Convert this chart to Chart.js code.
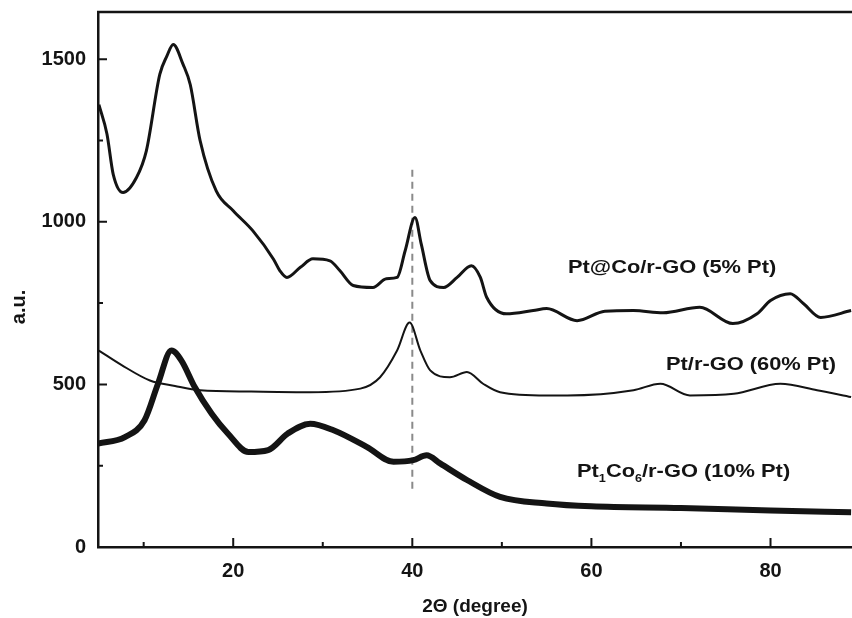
<!DOCTYPE html>
<html>
<head>
<meta charset="utf-8">
<script src="https://cdn.jsdelivr.net/npm/chart.js@4/dist/chart.umd.min.js"></script>
<style>
  html, body { margin: 0; padding: 0; background: #fff; overflow: hidden; }
  #wrap { width: 852px; height: 618px; }
</style>
</head>
<body>
<div id="wrap"><canvas id="xrd" width="852" height="618"></canvas></div>
<script>
// Datos (2θ en grados, intensidad en a.u.)
const ptCoX = [5.0, 5.9, 6.6, 7.7, 9.2, 10.3, 11.8, 12.6, 13.3, 14.4, 15.2, 16.3, 18.1, 20.0, 22.2, 24.5, 25.2, 26.0, 27.5, 28.9,
               30.8, 31.9, 33.4, 35.6, 37.1, 38.3, 39.2, 40.3, 41.0, 42.0, 43.5, 45.0, 46.6, 47.6, 48.3, 50.5, 53.5, 55.0, 58.4, 61.5,
               64.7, 68.0, 72.1, 75.8, 78.5, 80.0, 82.2, 83.7, 85.6, 89.0];
const ptCoY = [1360, 1270, 1146, 1090, 1136, 1218, 1453, 1510, 1545, 1484, 1422, 1250, 1095, 1034, 972, 885, 850, 829, 860, 886,
               880, 850, 804, 798, 825, 829, 911, 1013, 931, 819, 798, 829, 865, 829, 768, 717, 727, 733, 696, 725,
               727, 720, 737, 687, 717, 758, 779, 748, 706, 727];

const ptX = [5.0, 7.5, 10.7, 13.5, 16.3, 22.0, 28.6, 34.2, 36.4, 38.3, 39.7, 40.9, 42.0, 44.2, 46.1, 47.9, 49.8,
             55.0, 57.3, 64.7, 67.7, 71.0, 75.9, 81.1, 85.2, 89.0];
const ptY = [604, 560, 512, 495, 482, 478, 476, 487, 522, 604, 690, 604, 543, 522, 538, 502, 476,
             466, 466, 482, 502, 466, 471, 502, 482, 461];

const ptCo6X = [4.9, 7.9, 10.1, 11.6, 13.1, 14.2, 15.7, 17.6, 19.4, 21.7, 23.9, 26.1, 28.6, 31.2, 34.9, 37.9, 40.1,
                41.6, 43.1, 46.1, 49.8, 55.0, 60.0, 70.0, 80.0, 89.0];
const ptCo6Y = [318, 338, 390, 502, 604, 574, 492, 410, 349, 292, 298, 349, 379, 359, 308, 262, 267,
                282, 257, 206, 154, 134, 125, 120, 112, 107];

// Línea de referencia discontinua en 2θ = 40
const refX = [40, 40];
const refY = [1160, 170];

const xTicks = [20, 40, 60, 80];
const xMinor = [10, 30, 50, 70];
const yTicks = [0, 500, 1000, 1500];
const yMinor = [250, 750, 1250];

const seriesNames = ['Pt@Co/r-GO (5% Pt)', 'Pt/r-GO (60% Pt)', 'Pt1Co6/r-GO (10% Pt)'];

function pts(xs, ys) {
    return xs.map((x, i) => ({ x: x, y: ys[i] }));
}

const INK = '#141414';
const FONT = "'Liberation Sans', Arial, sans-serif";

// Plugin: marco superior, ticks hacia adentro, etiquetas y título del eje Y
const decoPlugin = {
    id: 'deco',
    afterDraw(chart) {
        const ctx = chart.ctx;
        const area = chart.chartArea;
        const xs = chart.scales.x, ys = chart.scales.y;
        ctx.save();
        ctx.strokeStyle = INK;
        ctx.lineWidth = 2.5;
        ctx.beginPath();
        ctx.moveTo(area.left - 1, area.top);
        ctx.lineTo(area.right, area.top);
        ctx.stroke();

        ctx.lineWidth = 2;
        ctx.beginPath();
        xTicks.forEach(v => { const p = xs.getPixelForValue(v); ctx.moveTo(p, area.bottom); ctx.lineTo(p, area.bottom - 9); });
        xMinor.forEach(v => { const p = xs.getPixelForValue(v); ctx.moveTo(p, area.bottom); ctx.lineTo(p, area.bottom - 5); });
        yTicks.forEach(v => { const p = ys.getPixelForValue(v); ctx.moveTo(area.left, p); ctx.lineTo(area.left + 9, p); });
        yMinor.forEach(v => { const p = ys.getPixelForValue(v); ctx.moveTo(area.left, p); ctx.lineTo(area.left + 5, p); });
        ctx.stroke();

        // Título del eje Y
        ctx.fillStyle = INK;
        ctx.font = 'bold 20px ' + FONT;
        ctx.textAlign = 'center';
        ctx.textBaseline = 'middle';
        ctx.translate(19, 307);
        ctx.rotate(-Math.PI / 2);
        ctx.fillText('a.u.', 0, 0);
        ctx.restore();

        // Etiquetas de las curvas (texto algo ensanchado como en la figura)
        const sx = 1.15;
        const drawLabel = (parts, left, cy) => {
            ctx.save();
            ctx.translate(left, cy);
            ctx.scale(sx, 1);
            ctx.fillStyle = INK;
            ctx.textBaseline = 'middle';
            ctx.textAlign = 'left';
            let x = 0;
            parts.forEach(p => {
                ctx.font = (p.sub ? 'bold 11px ' : 'bold 19px ') + FONT;
                ctx.fillText(p.t, x, p.sub ? 7 : 0);
                x += ctx.measureText(p.t).width;
            });
            ctx.restore();
        };
        drawLabel([{ t: seriesNames[0] }], 568, 268);
        drawLabel([{ t: seriesNames[1] }], 666, 365);
        drawLabel([{ t: 'Pt' }, { t: '1', sub: true }, { t: 'Co' }, { t: '6', sub: true }, { t: '/r-GO (10% Pt)' }], 577, 472);
    }
};

const ctx = document.getElementById('xrd').getContext('2d');
new Chart(ctx, {
    type: 'line',
    data: {
        datasets: [
            {
                label: seriesNames[0],
                data: pts(ptCoX, ptCoY),
                borderColor: INK,
                borderWidth: 3,
                cubicInterpolationMode: 'monotone'
            },
            {
                label: seriesNames[1],
                data: pts(ptX, ptY),
                borderColor: INK,
                borderWidth: 2,
                cubicInterpolationMode: 'monotone'
            },
            {
                label: seriesNames[2],
                data: pts(ptCo6X, ptCo6Y),
                borderColor: INK,
                borderWidth: 6,
                cubicInterpolationMode: 'monotone'
            },
            {
                label: 'ref',
                data: pts(refX, refY),
                borderColor: '#8a8a8a',
                borderWidth: 2,
                borderDash: [7, 5]
            }
        ]
    },
    options: {
        responsive: false,
        animation: false,
        devicePixelRatio: 1,
        layout: { padding: { top: 12, right: 0, left: 0, bottom: 0 } },
        elements: { point: { radius: 0 }, line: { fill: false } },
        plugins: {
            legend: { display: false },
            tooltip: { enabled: false }
        },
        scales: {
            x: {
                type: 'linear',
                min: 4.9,
                max: 89.1,
                afterBuildTicks: s => { s.ticks = xTicks.map(v => ({ value: v })); },
                afterFit: s => { s.height = 71; s.paddingLeft = 0; s.paddingRight = 0; },
                grid: { display: true, drawOnChartArea: false, drawTicks: false },
                border: { display: true, color: INK, width: 2.5 },
                ticks: { color: INK, font: { family: FONT, size: 20, weight: 'bold' }, padding: 12, maxRotation: 0,
                         callback: v => String(v) },
                title: {
                    display: true,
                    text: '2Θ (degree)',
                    color: INK,
                    font: { family: FONT, size: 19, weight: 'bold' },
                    padding: { top: 0, bottom: 0 }
                }
            },
            y: {
                type: 'linear',
                min: 0,
                max: 1645,
                afterBuildTicks: s => { s.ticks = yTicks.map(v => ({ value: v })); },
                afterFit: s => { s.width = 98; s.paddingTop = 0; s.paddingBottom = 0; },
                grid: { display: true, drawOnChartArea: false, drawTicks: false },
                border: { display: true, color: INK, width: 2.5 },
                ticks: { color: INK, font: { family: FONT, size: 20, weight: 'bold' }, padding: 12,
                         callback: v => String(v) }
            }
        }
    },
    plugins: [decoPlugin]
});
</script>
</body>
</html>
